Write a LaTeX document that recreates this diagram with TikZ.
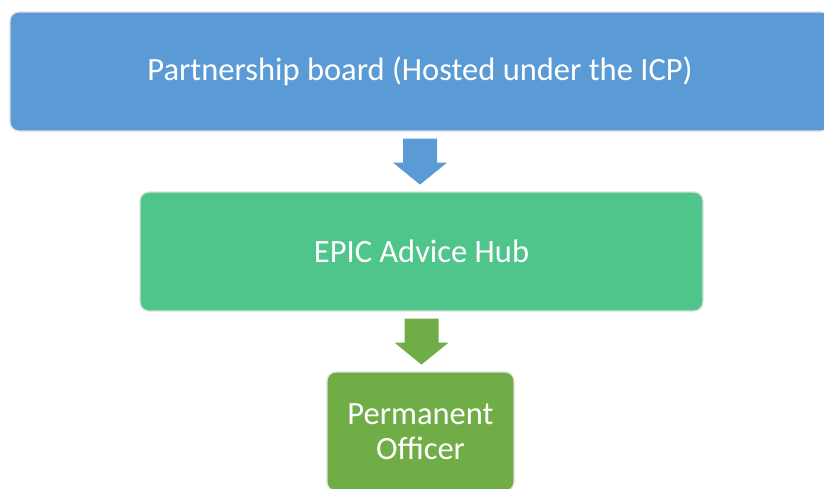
\documentclass[tikz,border=0pt]{standalone}
\usepackage{fontspec}
\setmainfont{Carlito}
\usepackage{xcolor}
\usetikzlibrary{calc}
\definecolor{boardblue}{HTML}{5B9BD5}
\definecolor{hubgreen}{HTML}{4FC58B}
\definecolor{officergreen}{HTML}{70AD47}
\tikzstyle{box}=[rectangle, rounded corners=9pt, draw=gray!25, line width=1.2pt, text=white, align=center, inner sep=0pt, minimum height=119pt, font=\fontsize{32.5}{35}\selectfont]
% block arrow hanging under a node: colour, node
\newcommand{\blockarrow}[2]{
 \fill[#1] ($(#2.south)+(-17,7)$) -- ($(#2.south)+(17,7)$) -- ($(#2.south)+(17,31)$) -- ($(#2.south)+(27,31)$)
  -- ($(#2.south)+(0,53)$) -- ($(#2.south)+(-27,31)$) -- ($(#2.south)+(-17,31)$) -- cycle;
}

\begin{document}
\begin{tikzpicture}[x=1pt, y=-1pt]
 \useasboundingbox (0,0) rectangle (824,488);
%
 \node[box, fill=boardblue, minimum width=820pt] (board) at (420,71.5) {Partnership board (Hosted under the ICP)};
 \node[box, fill=hubgreen, minimum width=563pt] (hub) at (421.5,251.5) {EPIC Advice Hub};
 \node[box, fill=officergreen, minimum width=187pt] (officer) at (420.5,431.5) {Permanent\\Officer};
%
 \blockarrow{boardblue}{board}
 \blockarrow{officergreen}{hub}
\end{tikzpicture}
\end{document}
